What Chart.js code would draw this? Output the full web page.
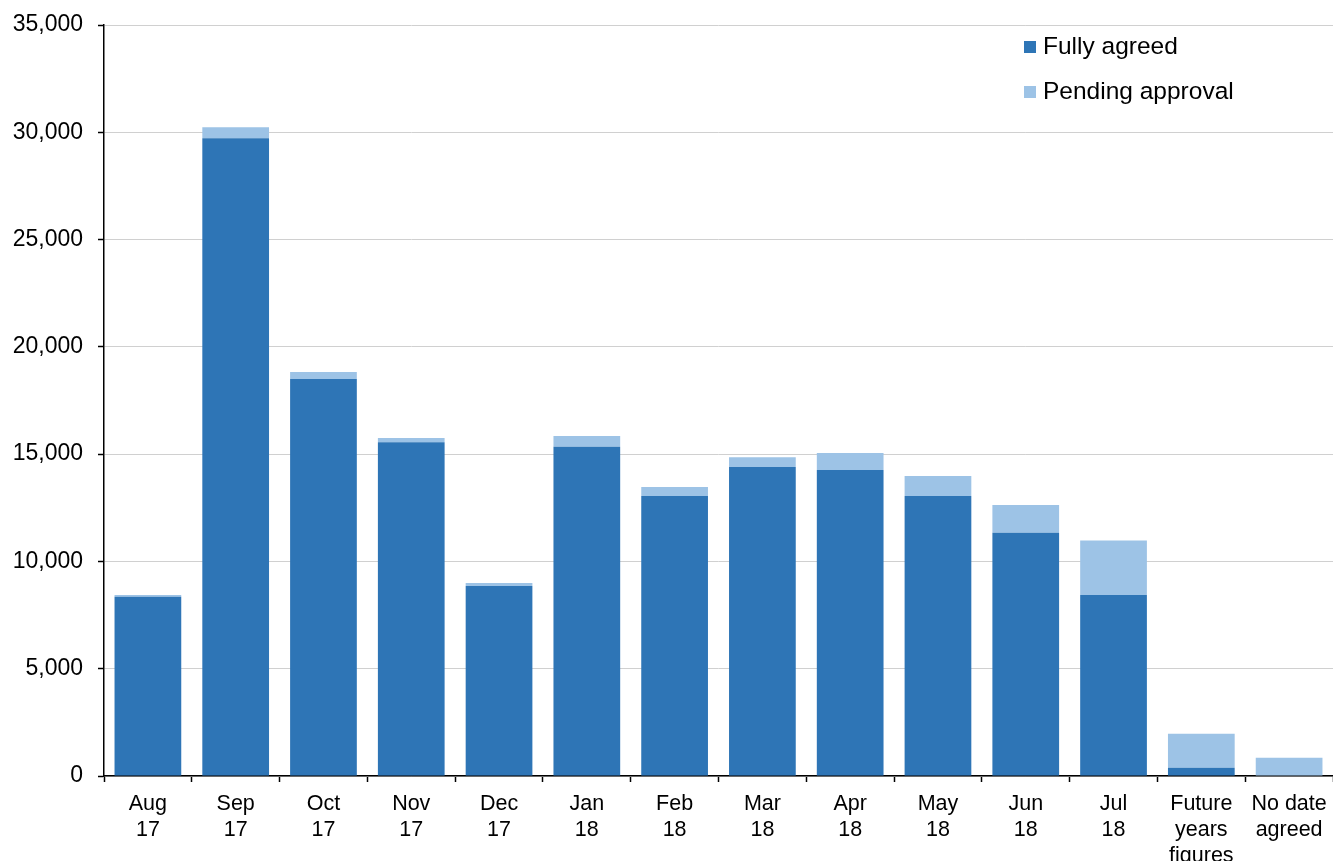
<!DOCTYPE html>
<html>
<head>
<meta charset="utf-8">
<script src="https://cdn.jsdelivr.net/npm/chart.js@4/dist/chart.umd.min.js"></script>
<style>
  html, body { margin: 0; padding: 0; background: #fff; }
  #wrap { width: 1333px; height: 861px; position: relative; }
</style>
</head>
<body>
<div id="wrap"><canvas id="chart"></canvas></div>
<script>
(function(){
    'use strict';
    // ---- data
    const categories = [
        ['Aug', '17'], ['Sep', '17'], ['Oct', '17'], ['Nov', '17'], ['Dec', '17'],
        ['Jan', '18'], ['Feb', '18'], ['Mar', '18'], ['Apr', '18'], ['May', '18'],
        ['Jun', '18'], ['Jul', '18'], ['Future', 'years', 'figures'], ['No date', 'agreed']
    ];
    const fullyAgreed     = [8350, 29720, 18500, 15560, 8850, 15340, 13050, 14400, 14260, 13050, 11340, 8430, 380, 0];
    const pendingApproval = [ 90,   520,   330,   190,  140,   500,   420,   460,   790,   930,  1290, 2540, 1590, 850];
    const yTicks = [0, 5000, 10000, 15000, 20000, 25000, 30000, 35000];

    const darkBlue  = '#2E75B6';
    const lightBlue = '#9DC3E6';
    const font = '"Liberation Sans", Arial, sans-serif';

    // legend drawn inside the plot, top right
    const boxLegend = {
        id: 'boxLegend',
        afterDraw(chart){
            const ctx = chart.ctx;
            ctx.save();
            ctx.font = '24.5px ' + font;
            ctx.textBaseline = 'middle';
            chart.data.datasets.forEach(function(ds, i){
                const y = 47 + i * 45;
                ctx.fillStyle = ds.backgroundColor;
                ctx.fillRect(1024, y - 6, 12, 12);
                ctx.fillStyle = '#000';
                ctx.fillText(ds.label, 1043, y);
            });
            ctx.restore();
        }
    };

    new Chart('chart', {
        type: 'bar',
        data: {
            labels: categories,
            datasets: [
                { label: 'Fully agreed', data: fullyAgreed, backgroundColor: darkBlue, borderWidth: 0 },
                { label: 'Pending approval', data: pendingApproval, backgroundColor: lightBlue, borderWidth: 0 }
            ]
        },
        options: {
            responsive: true,
            maintainAspectRatio: false,
            animation: false,
            layout: { padding: { top: 25, right: 0, bottom: 0, left: 0 } },
            plugins: {
                legend: { display: false },
                tooltip: { enabled: false }
            },
            datasets: {
                bar: { categoryPercentage: 1.0, barPercentage: 0.76 }
            },
            scales: {
                x: {
                    stacked: true,
                    grid: { display: true, offset: true, drawOnChartArea: false,
                            tickLength: 6, tickColor: '#000', tickWidth: 1.5 },
                    border: { color: '#000', width: 1.5 },
                    ticks: { color: '#000', font: { family: font, size: 21.5, lineHeight: 1.21 },
                             maxRotation: 0, autoSkip: false, padding: 9 },
                    afterFit(scale){
                        scale.height = 85;
                        scale.paddingLeft = 0;
                        scale.paddingRight = 0;
                    }
                },
                y: {
                    stacked: true,
                    min: 0,
                    max: 35000,
                    afterBuildTicks(scale){
                        scale.ticks = yTicks.map(function(v){ return { value: v }; });
                    },
                    grid: { color: '#d0d0d0', lineWidth: 1, tickLength: 6,
                            tickColor: '#000', tickWidth: 1.5 },
                    border: { color: '#000', width: 1.5 },
                    ticks: {
                        color: '#000', font: { family: font, size: 23 }, padding: 15,
                        callback: function(v){ return v.toLocaleString('en-GB'); }
                    },
                    afterFit(scale){
                        scale.width = 104;
                        scale.paddingTop = 0;
                        scale.paddingBottom = 0;
                    }
                }
            }
        },
        plugins: [boxLegend]
    });
}());
</script>
</body>
</html>
